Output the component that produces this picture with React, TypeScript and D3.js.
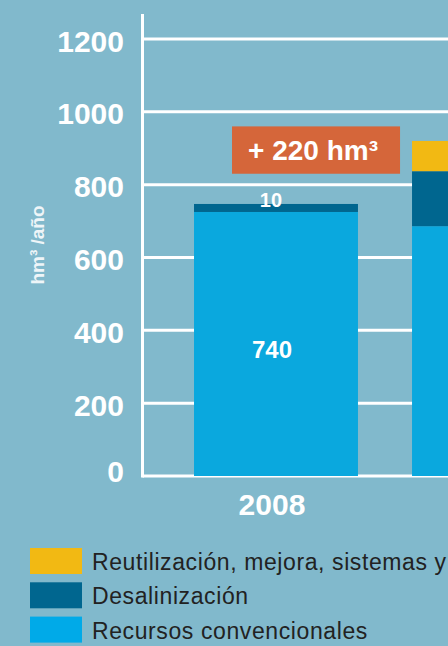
import React, { useEffect } from "react";
import * as d3 from "d3";

// ---- data ----
const categories = ["2008", "2027"];
const conventional = [725, 686];
const desalination = [22, 151];
const reuse = [0, 83];
const convLabels = ["740", ""];
const desalLabels = ["10", ""];
const yTicks = [0, 200, 400, 600, 800, 1000, 1200];
const seriesNames = [
  "Reutilización, mejora, sistemas y",
  "Desalinización",
  "Recursos convencionales",
];
const annotationText = "+ 220 hm³";

const W = 448;
const H = 646;
const BG = "#81b9cc";
const C_CONV = "#0aa8de";
const C_DESAL = "#00668f";
const C_REUSE = "#f2b913";
const C_ORANGE = "#d5663a";
const FONT = "'Liberation Sans', Arial, Helvetica, sans-serif";

export default function App() {
  useEffect(() => {
    document.body.style.margin = "0";
  }, []);

  const x = d3
    .scaleBand<string>()
    .domain(categories)
    .range([143, 627])
    .paddingInner(0.248)
    .paddingOuter(0.234);
  const y = d3.scaleLinear().domain([0, 1200]).range([476, 39]);
  const bw = x.bandwidth();

  const stackData = categories.map((c, i) => ({
    cat: c,
    conv: conventional[i],
    desal: desalination[i],
    reuse: reuse[i],
  }));
  const stack = d3.stack<any>().keys(["conv", "desal", "reuse"]);
  const layers = stack(stackData);
  const colors: Record<string, string> = {
    conv: C_CONV,
    desal: C_DESAL,
    reuse: C_REUSE,
  };

  const axisX = 142.5;
  const boxX0 = (x(categories[0]) as number) + 38;
  const boxX1 = (x(categories[1]) as number) - 12;
  const boxY0 = y(960);
  const boxY1 = y(830);

  const legendColors = [C_REUSE, C_DESAL, "#00aae8"];

  const visibleCats = categories.filter(
    (c) => (x(c) as number) + bw / 2 < W - 20
  );

  return (
    <svg
      width={W}
      height={H}
      viewBox={`0 0 ${W} ${H}`}
      style={{ display: "block", fontFamily: FONT }}
    >
      <rect x={0} y={0} width={W} height={H} fill={BG} />

      {/* gridlines */}
      {yTicks
        .filter((t) => t > 0)
        .map((t) => (
          <line
            key={"g" + t}
            x1={axisX}
            x2={W}
            y1={y(t)}
            y2={y(t)}
            stroke="#ffffff"
            strokeWidth={3}
          />
        ))}
      {/* baseline */}
      <line x1={axisX} x2={W} y1={y(0)} y2={y(0)} stroke="#ffffff" strokeWidth={3} />
      {/* y axis */}
      <line x1={axisX} x2={axisX} y1={14} y2={y(0) + 1.5} stroke="#ffffff" strokeWidth={3} />

      {/* tick labels */}
      {yTicks.map((t) => (
        <text
          key={"t" + t}
          x={124}
          y={y(t) + (t === 0 ? -5 : 2)}
          textAnchor="end"
          dominantBaseline="central"
          fill="#ffffff"
          fontWeight="bold"
          fontSize={30}
        >
          {t}
        </text>
      ))}

      {/* y axis title */}
      <text
        transform={`translate(44,245) rotate(-90)`}
        textAnchor="middle"
        fill="#eef5f8"
        fontWeight="bold"
        fontSize={19}
      >
        hm³ /año
      </text>

      {/* bars */}
      {layers.map((layer) =>
        layer.map((d, i) =>
          d[1] - d[0] > 0 ? (
            <rect
              key={layer.key + i}
              x={x(categories[i]) as number}
              y={y(d[1])}
              width={bw}
              height={y(d[0]) - y(d[1])}
              fill={colors[layer.key]}
            />
          ) : null
        )
      )}

      {/* value labels */}
      {categories.map((c, i) =>
        convLabels[i] ? (
          <text
            key={"cl" + c}
            x={(x(c) as number) + bw / 2 - 4}
            y={y(conventional[i] / 2) + 6}
            textAnchor="middle"
            dominantBaseline="central"
            fill="#ffffff"
            fontWeight="bold"
            fontSize={24}
          >
            {convLabels[i]}
          </text>
        ) : null
      )}
      {categories.map((c, i) =>
        desalLabels[i] ? (
          <text
            key={"dl" + c}
            x={(x(c) as number) + bw / 2 - 5}
            y={y(conventional[i] + desalination[i]) + 3}
            textAnchor="middle"
            fill="#ffffff"
            fontWeight="bold"
            fontSize={20}
          >
            {desalLabels[i]}
          </text>
        ) : null
      )}

      {/* category labels */}
      {visibleCats.map((c) => (
        <text
          key={"c" + c}
          x={(x(c) as number) + bw / 2 - 4}
          y={515}
          textAnchor="middle"
          fill="#ffffff"
          fontWeight="bold"
          fontSize={30}
        >
          {c}
        </text>
      ))}

      {/* annotation */}
      <rect x={boxX0} y={boxY0} width={boxX1 - boxX0} height={boxY1 - boxY0} fill={C_ORANGE} />
      <text
        x={(boxX0 + boxX1) / 2 - 3}
        y={160}
        textAnchor="middle"
        fill="#ffffff"
        fontWeight="bold"
        fontSize={28}
      >
        {annotationText}
      </text>

      {/* legend */}
      {seriesNames.map((name, i) => (
        <g key={"lg" + i} transform={`translate(30,${548 + i * 34.3})`}>
          <rect x={0} y={0} width={52} height={26} fill={legendColors[i]} />
          <text x={62} y={22} fill="#222222" fontSize={23} letterSpacing={0.6}>
            {name}
          </text>
        </g>
      ))}
    </svg>
  );
}
